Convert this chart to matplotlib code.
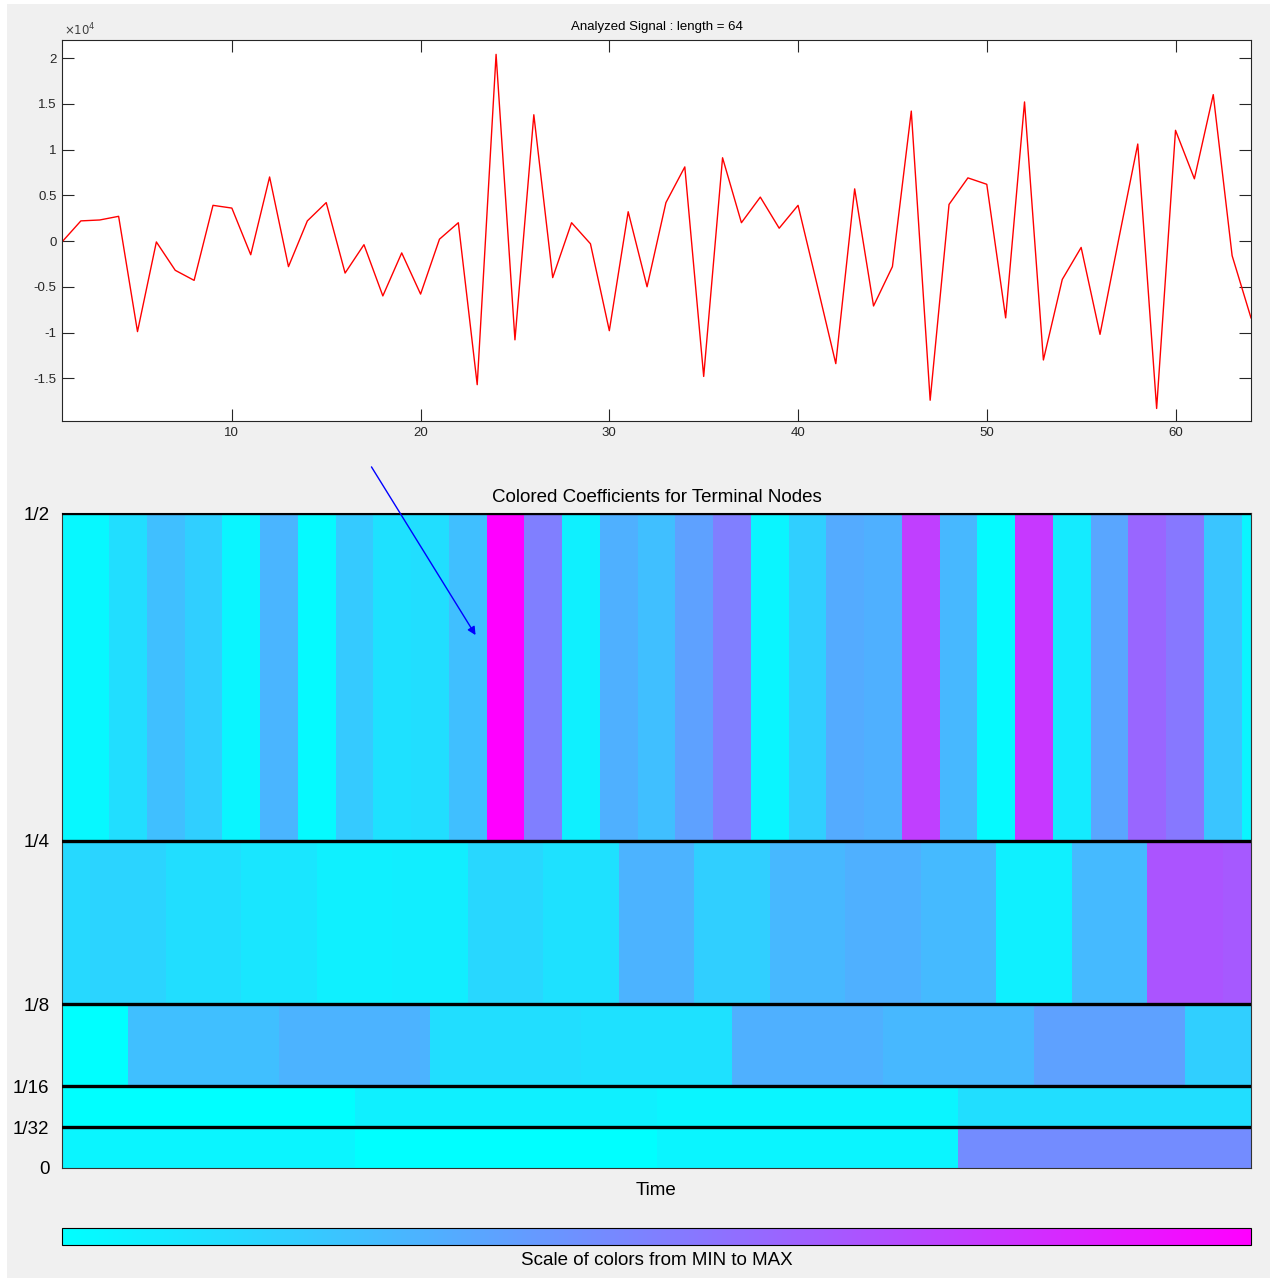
import numpy as np
import matplotlib
matplotlib.use('Agg')
import matplotlib.pyplot as plt
from matplotlib.ticker import FuncFormatter
from matplotlib.patches import Rectangle

plt.rcParams['font.family'] = ['Liberation Sans', 'DejaVu Sans']
plt.rcParams['axes.unicode_minus'] = False

# analyzed signal (64 samples)
signal = [-100, 2200, 2300, 2700, -9900, -100, -3200, -4300, 3900, 3600,
          -1500, 7000, -2800, 2200, 4200, -3500, -400, -6000, -1300, -5800,
          200, 2000, -15700, 20400, -10800, 13800, -4000, 2000, -300, -9800,
          3200, -5000, 4200, 8100, -14800, 9100, 2000, 4800, 1400, 3900,
          -4700, -13400, 5700, -7100, -2800, 14200, -17400, 4000, 6900, 6200,
          -8400, 15200, -13000, -4200, -700, -10200, 300, 10600, -18300, 12100,
          6800, 16000, -1600, -8400]

# colored coefficients of terminal nodes (scaled MIN..MAX -> 0..1)
node_half = [0.03, 0.03, 0.13, 0.25, 0.19, 0.04, 0.29, 0.02, 0.21, 0.12, 0.13,
             0.25, 1.00, 0.50, 0.06, 0.31, 0.25, 0.37, 0.50, 0.04, 0.19, 0.33,
             0.31, 0.75, 0.28, 0.02, 0.78, 0.08, 0.35, 0.60, 0.53, 0.23, 0.04]
node_quarter = [0.15, 0.17, 0.13, 0.10, 0.06, 0.07, 0.16, 0.12, 0.30, 0.19,
                0.28, 0.31, 0.27, 0.06, 0.27, 0.67, 0.65]
node_eighth = [0.00, 0.25, 0.30, 0.13, 0.12, 0.31, 0.28, 0.37, 0.19]
node_16th = [0.00, 0.06, 0.04, 0.13]
node_32nd = [0.04, 0.00, 0.04, 0.45]

freq_ticks = [0, 1/32, 1/16, 1/8, 1/4, 1/2]
freq_labels = ['0', '1/32', '1/16', '1/8', '1/4', '1/2']

# band layout: (values, freq low, freq high, time step, first centre)
bands = [(node_half, 1/4, 1/2, 2, 0.5),
         (node_quarter, 1/8, 1/4, 4, 0.5),
         (node_eighth, 1/16, 1/8, 8, 0.5),
         (node_16th, 1/32, 1/16, 16, 8.5),
         (node_32nd, 0, 1/32, 16, 8.5)]

W, H = 1276, 1280
fig = plt.figure(figsize=(W/100, H/100), dpi=100, facecolor='white')
fig.patches.append(Rectangle((7/W, 2/H), 1263/W, 1274/H, transform=fig.transFigure,
                             facecolor='#f0f0f0', edgecolor='none', zorder=-10))

# top: signal
ax = fig.add_axes([62/W, 1-421/H, 1189/W, 381/H])
t = np.arange(1, len(signal)+1)
ax.plot(t, signal, color='red', lw=1)
ax.set_xlim(1, 64)
ax.set_ylim(-19670, 21970)
ax.set_xticks([10, 20, 30, 40, 50, 60])
ax.set_yticks([-15000, -10000, -5000, 0, 5000, 10000, 15000, 20000])
ax.yaxis.set_major_formatter(FuncFormatter(lambda v, p: '%g' % (v/1e4)))
ax.tick_params(direction='in', length=8.5, width=0.8, top=True, right=True,
               labelsize=9.5, pad=4, colors='#262626')
for s in ax.spines.values():
    s.set_color('#262626')
ax.text(0.002, 1.004, r'$\times10^{4}$', transform=ax.transAxes, fontsize=8.5,
        color='#404040', va='bottom', ha='left')
ax.set_title('Analyzed Signal : length = 64', fontsize=9.5, pad=7)

# bottom: colored coefficients
ax2 = fig.add_axes([62/W, 1-1168/H, 1189/W, 655/H])
for vals, lo, hi, step, c0 in bands:
    centres = c0 + step*np.arange(len(vals))
    edges = np.append(centres - step/2, centres[-1] + step/2)
    mesh = ax2.pcolormesh(edges, [lo, hi], np.array(vals)[None, :], cmap='cool',
                          vmin=0, vmax=1, shading='flat')
for y in freq_ticks[1:]:
    ax2.axhline(y, color='black', lw=2.4, zorder=3)
ax2.set_xlim(1, 64)
ax2.set_ylim(0, 0.5)
ax2.set_xticks([])
ax2.set_yticks(freq_ticks)
ax2.set_yticklabels(freq_labels)
ax2.tick_params(length=0, labelsize=13.5, pad=9)
for s in ax2.spines.values():
    s.set_color('#333333')
ax2.set_title('Colored Coefficients for Terminal Nodes', fontsize=13.5, pad=8)
ax2.set_xlabel('Time', fontsize=13.5, labelpad=10)
ax2.annotate('', xy=(22.99, 0.405), xytext=(17.32, 0.537), annotation_clip=False,
             arrowprops=dict(arrowstyle='-|>', color='blue', lw=1, mutation_scale=12))

# colour scale
cax = fig.add_axes([62/W, 1-1245/H, 1189/W, 17/H])
cb = fig.colorbar(mesh, cax=cax, orientation='horizontal', ticks=[])
cb.outline.set_linewidth(0.8)
cb.set_label('Scale of colors from MIN to MAX', fontsize=13.5, labelpad=5)

fig.savefig('out.png', dpi=100, facecolor=fig.get_facecolor())
